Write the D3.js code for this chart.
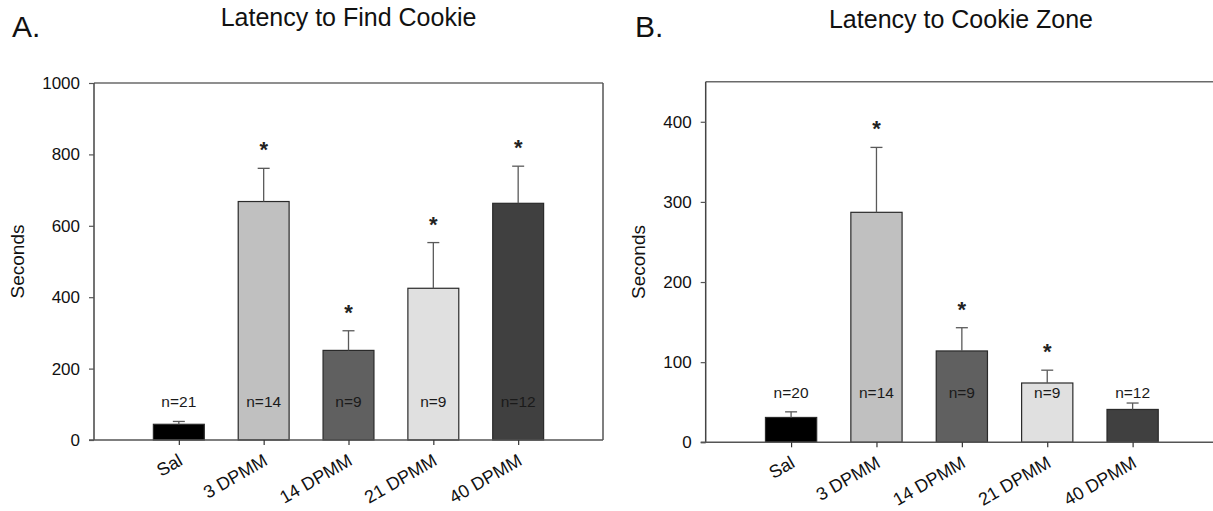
<!DOCTYPE html>
<html>
<head>
<meta charset="utf-8">
<script src="https://cdn.jsdelivr.net/npm/d3@7"></script>
<style>
  html, body { margin: 0; padding: 0; background: #fff; }
  svg { display: block; font-family: "Liberation Sans", Arial, sans-serif; }
</style>
</head>
<body>
<svg id="chart" width="1213" height="511"></svg>
<script>
// ---- data ----
const categories = ["Sal", "3 DPMM", "14 DPMM", "21 DPMM", "40 DPMM"];
const barColors = ["#000000", "#c0c0c0", "#606060", "#e0e0e0", "#404040"];

const findMeans = [44, 668, 251, 425, 663];
const findErr = [8, 93, 55, 128, 104];
const findN = ["n=21", "n=14", "n=9", "n=9", "n=12"];
const findSig = [false, true, true, true, true];
const findTicks = [0, 200, 400, 600, 800, 1000];

const zoneMeans = [31, 287, 114, 74, 41];
const zoneErr = [7, 81, 29, 16, 8];
const zoneN = ["n=20", "n=14", "n=9", "n=9", "n=12"];
const zoneSig = [false, true, true, true, false];
const zoneTicks = [0, 100, 200, 300, 400];

const titles = ["Latency to Find Cookie", "Latency to Cookie Zone"];
const panelLabels = ["A.", "B."];
const yLabel = "Seconds";

// ---- drawing ----
const svg = d3.select("#chart");

function panel(cfg) {
  const g = svg.append("g");
  const x = d3.scalePoint().domain(categories).range([cfg.left, cfg.right]).padding(1);
  const step = x.step();
  const bw = step * 0.6;
  const y = d3.scaleLinear().domain([0, cfg.ymax]).range([cfg.bottom, cfg.top]);

  // frame: top and right borders
  g.append("line").attr("x1", cfg.left).attr("x2", cfg.right).attr("y1", cfg.top).attr("y2", cfg.top)
    .attr("stroke", "#6a6a6a").attr("stroke-width", 1.5);
  g.append("line").attr("x1", cfg.right).attr("x2", cfg.right).attr("y1", cfg.top).attr("y2", cfg.bottom)
    .attr("stroke", "#555").attr("stroke-width", 1.5);

  // y axis
  const ya = d3.axisLeft(y).tickValues(cfg.ticks).tickFormat(d3.format("d"))
    .tickSize(5).tickPadding(9).tickSizeOuter(0);
  const yg = g.append("g").attr("transform", `translate(${cfg.left},0)`).call(ya);
  yg.select(".domain").attr("stroke", "#444").attr("stroke-width", 1.5)
    .attr("d", `M0,${cfg.top}V${cfg.bottom}`);
  yg.selectAll(".tick line").attr("stroke", "#555").attr("stroke-width", 1.2);
  yg.selectAll(".tick text").attr("font-size", 17).attr("fill", "#111")
    .attr("font-family", "'Liberation Sans', Arial, sans-serif");

  // bars
  const data = categories.map((c, i) => ({ c, i, m: cfg.means[i], e: cfg.err[i], n: cfg.n[i], s: cfg.sig[i] }));
  g.selectAll("rect.bar").data(data).enter().append("rect")
    .attr("x", d => x(d.c) - bw / 2)
    .attr("width", bw)
    .attr("y", d => y(d.m))
    .attr("height", d => y(0) - y(d.m))
    .attr("fill", d => barColors[d.i])
    .attr("stroke", "#2a2a2a").attr("stroke-width", 1.2);

  // error bars (upper only)
  g.selectAll("line.err").data(data).enter().append("line")
    .attr("x1", d => x(d.c)).attr("x2", d => x(d.c))
    .attr("y1", d => y(d.m)).attr("y2", d => y(d.m + d.e))
    .attr("stroke", "#5a5a5a").attr("stroke-width", 1.3);
  g.selectAll("line.cap").data(data).enter().append("line")
    .attr("x1", d => x(d.c) - 6).attr("x2", d => x(d.c) + 6)
    .attr("y1", d => y(d.m + d.e)).attr("y2", d => y(d.m + d.e))
    .attr("stroke", "#5a5a5a").attr("stroke-width", 1.3);

  // x axis
  const xa = d3.axisBottom(x).tickSize(5).tickSizeOuter(0).tickFormat("");
  const xg = g.append("g").attr("transform", `translate(0,${cfg.bottom})`).call(xa);
  xg.select(".domain").attr("stroke", "#555").attr("stroke-width", 1.5)
    .attr("d", `M${cfg.left - 5},0H${cfg.right}`);
  xg.selectAll(".tick line").attr("stroke", "#333").attr("stroke-width", 1.2);
  g.selectAll("text.xl").data(data).enter().append("text")
    .attr("transform", d => `translate(${x(d.c) + 5},${cfg.bottom + 24}) rotate(-30)`)
    .attr("text-anchor", "end").attr("font-size", 18).attr("fill", "#111")
    .text(d => d.c);

  // n labels
  g.selectAll("text.n").data(data).enter().append("text")
    .attr("x", d => x(d.c)).attr("y", cfg.nY)
    .attr("text-anchor", "middle").attr("font-size", 15.5).attr("fill", "#1a1a1a")
    .text(d => d.n);

  // significance stars
  g.selectAll("text.star").data(data.filter(d => d.s)).enter().append("text")
    .attr("x", d => x(d.c)).attr("y", d => y(d.m + d.e) - 22 + 11)
    .attr("text-anchor", "middle").attr("font-size", 22).attr("font-weight", "bold").attr("fill", "#222")
    .text("*");

  // y label
  g.append("text")
    .attr("transform", `translate(${cfg.yLabelX},${(cfg.top + cfg.bottom) / 2}) rotate(-90)`)
    .attr("text-anchor", "middle").attr("font-size", 19).attr("fill", "#111")
    .text(yLabel);

  // title
  g.append("text").attr("x", cfg.titleX).attr("y", cfg.titleY)
    .attr("text-anchor", "middle").attr("font-size", 25).attr("fill", "#111")
    .text(cfg.title);
  // panel label
  g.append("text").attr("x", cfg.labelX).attr("y", 37)
    .attr("font-size", 30).attr("fill", "#111")
    .text(cfg.panelLabel);
}

panel({
  left: 94, right: 603, top: 83, bottom: 440, ymax: 1000, ticks: findTicks,
  means: findMeans, err: findErr, n: findN, sig: findSig,
  nY: 407, yLabelX: 24, titleX: 348.5, titleY: 26, title: titles[0],
  labelX: 12, panelLabel: panelLabels[0]
});
panel({
  left: 705.7, right: 1218, top: 81.7, bottom: 442.3, ymax: 450, ticks: zoneTicks,
  means: zoneMeans, err: zoneErr, n: zoneN, sig: zoneSig,
  nY: 398, yLabelX: 645, titleX: 961, titleY: 28, title: titles[1],
  labelX: 635, panelLabel: panelLabels[1]
});
</script>
</body>
</html>
